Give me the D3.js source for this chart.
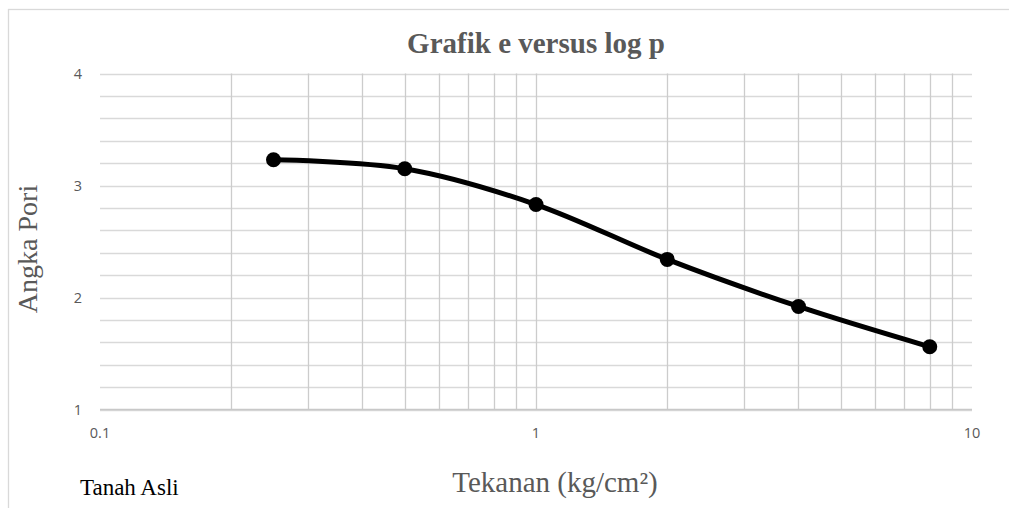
<!DOCTYPE html>
<html><head><meta charset="utf-8">
<script src="https://cdn.jsdelivr.net/npm/d3@7"></script>
<style>body{margin:0;background:#fff}svg{display:block}</style>
</head><body>
<svg id="c" width="1009" height="508"></svg>
<script>
const pressure = [0.25, 0.5, 1, 2, 4, 8];
const voidRatio = [3.23, 3.15, 2.83, 2.34, 1.92, 1.56];
const yTicks = [1, 2, 3, 4];
const xTickLabels = ["0.1", "1", "10"];
const xTicks = [0.1, 1, 10];
const title = "Grafik e versus log p";
const yTitle = "Angka Pori";
const xTitle = "Tekanan (kg/cm²)";
const seriesName = "Tanah Asli";

const svg = d3.select("#c");
const L = 100, R = 972, T = 73.5, B = 409.5;

svg.append("rect").attr("x", 8.5).attr("y", 9.5).attr("width", 1100).attr("height", 600)
  .attr("fill", "#fff").attr("stroke", "#d9d9d9").attr("stroke-width", 1.3);

const x = d3.scaleLog().domain([0.1, 10]).range([L, R]);
const y = d3.scaleLinear().domain([1, 4]).range([B, T]);

// horizontal grid (minor 0.2)
const hLines = d3.range(1, 4.0001, 0.2);
svg.append("g").selectAll("line").data(hLines).join("line")
  .attr("x1", L).attr("x2", R)
  .attr("y1", d => Math.round(y(d)) + 0.5).attr("y2", d => Math.round(y(d)) + 0.5)
  .attr("stroke", "#d9d9d9").attr("stroke-width", 1.3);

// vertical grid
const vLines = [];
[0.1, 1].forEach(b => { for (let k = 2; k <= 9; k++) vLines.push(b * k); });
vLines.push(1);
svg.append("g").selectAll("line").data(vLines).join("line")
  .attr("y1", T).attr("y2", B)
  .attr("x1", d => Math.round(x(d)) + 0.5).attr("x2", d => Math.round(x(d)) + 0.5)
  .attr("stroke", "#cccccc").attr("stroke-width", 1.3);

// bottom axis line
svg.append("line").attr("x1", L).attr("x2", R).attr("y1", B).attr("y2", B)
  .attr("stroke", "#c8c8c8").attr("stroke-width", 1.5);

// tick labels
svg.append("g").selectAll("text").data(yTicks).join("text")
  .attr("x", 82).attr("y", d => y(d)).attr("dy", "0.35em")
  .attr("text-anchor", "end").attr("font-family", "Open Sans, sans-serif")
  .attr("font-size", 14.5).attr("fill", "#595959").text(d => d);
svg.append("g").selectAll("text").data(xTicks).join("text")
  .attr("x", d => x(d)).attr("y", 433).attr("dy", "0.35em")
  .attr("text-anchor", "middle").attr("font-family", "Open Sans, sans-serif")
  .attr("font-size", 14.5).attr("fill", "#595959").text((d, i) => xTickLabels[i]);

// titles
svg.append("text").attr("x", 536).attr("y", 53).attr("text-anchor", "middle")
  .attr("font-family", "Liberation Serif, serif").attr("font-weight", "bold")
  .attr("font-size", 29).attr("fill", "#595959").text(title);
svg.append("text").attr("transform", "translate(37,249) rotate(-90)").attr("text-anchor", "middle")
  .attr("font-family", "Liberation Serif, serif").attr("font-size", 28)
  .attr("fill", "#595959").text(yTitle);
svg.append("text").attr("x", 555).attr("y", 492).attr("text-anchor", "middle")
  .attr("font-family", "Liberation Serif, serif").attr("font-size", 29)
  .attr("fill", "#595959").text(xTitle);
svg.append("text").attr("x", 80).attr("y", 495)
  .attr("font-family", "Liberation Serif, serif").attr("font-size", 23)
  .attr("fill", "#000").text(seriesName);

// series
const pts = pressure.map((p, i) => [p, voidRatio[i]]);
const line = d3.line().x(d => x(d[0])).y(d => y(d[1])).curve(d3.curveCardinal.tension(0));
svg.append("path").datum(pts).attr("d", line).attr("fill", "none")
  .attr("stroke", "#000").attr("stroke-width", 5).attr("stroke-linejoin", "round");
svg.append("g").selectAll("circle").data(pts).join("circle")
  .attr("cx", d => x(d[0])).attr("cy", d => y(d[1])).attr("r", 7.5).attr("fill", "#000");
</script>
</body></html>
